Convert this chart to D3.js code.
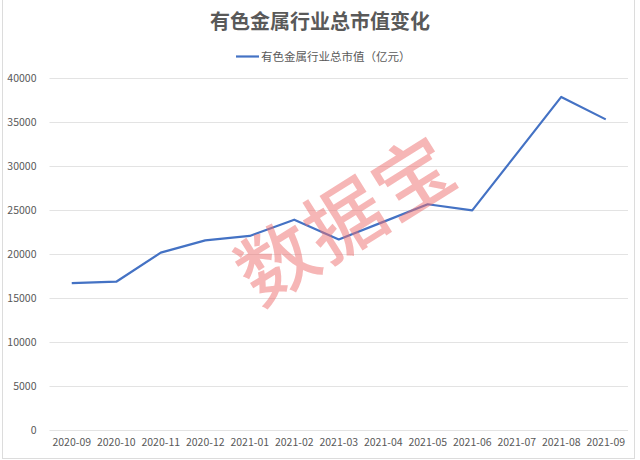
<!DOCTYPE html>
<html>
<head>
<meta charset="utf-8">
<script src="https://cdn.jsdelivr.net/npm/d3@7"></script>
<style>
  html, body { margin: 0; padding: 0; background: #fff; }
  svg { display: block; }
</style>
</head>
<body>
<svg id="chart" width="640" height="460"></svg>
<script>
const title = "有色金属行业总市值变化";
const seriesName = "有色金属行业总市值（亿元）";
const months = ["2020-09","2020-10","2020-11","2020-12","2021-01","2021-02","2021-03","2021-04","2021-05","2021-06","2021-07","2021-08","2021-09"];
const marketCap = [16700, 16850, 20150, 21550, 22050, 23900, 21650, 23650, 25650, 24950, 31400, 37850, 35300];
const yTicks = [0, 5000, 10000, 15000, 20000, 25000, 30000, 35000, 40000];
const watermark = "数据宝";

const W = 640, H = 460;
const margin = { left: 49.5, right: 12, top: 78, bottom: 30 };
const svg = d3.select("#chart");
const font = "'Microsoft YaHei','Noto Sans CJK SC','Noto Sans',sans-serif";

svg.append("rect").attr("x", 0).attr("y", 0).attr("width", W).attr("height", H).attr("fill", "#fff");
// outer frame
svg.append("rect").attr("x", 2.5).attr("y", -2).attr("width", 632).attr("height", 460.5)
  .attr("fill", "none").attr("stroke", "#dcdcdc").attr("stroke-width", 1);

const x = d3.scaleBand().domain(months).range([margin.left, W - margin.right]).padding(0);
const y = d3.scaleLinear().domain([0, 40000]).range([H - margin.bottom, margin.top]);

// gridlines
const yAxis = d3.axisLeft(y).tickValues(yTicks).tickSize(-(W - margin.right - margin.left)).tickPadding(13).tickFormat(d3.format("d"));
const gy = svg.append("g").attr("transform", `translate(${margin.left},0)`).call(yAxis);
gy.select(".domain").remove();
gy.selectAll(".tick line").attr("stroke", "#e3e3e3").attr("stroke-width", 1);
gy.selectAll(".tick text").attr("fill", "#595959").style("font-family", font).style("font-size", "10.5px");

// x axis labels
const xAxis = d3.axisBottom(x).tickSize(0).tickPadding(9);
const gx = svg.append("g").attr("transform", `translate(0,${H - margin.bottom})`).call(xAxis);
gx.select(".domain").remove();
gx.selectAll(".tick text").attr("fill", "#595959").style("font-family", font).style("font-size", "10.5px");

// line
const line = d3.line().x((d, i) => x(months[i]) + x.bandwidth() / 2).y(d => y(d));
svg.append("path").datum(marketCap).attr("d", line)
  .attr("fill", "none").attr("stroke", "#4472c4").attr("stroke-width", 2.2)
  .attr("stroke-linejoin", "round");

// title
svg.append("text").attr("x", 320).attr("y", 29).attr("text-anchor", "middle")
  .attr("fill", "#595959").style("font-family", font).style("font-size", "20px").style("font-weight", "bold")
  .text(title);

// legend
svg.append("line").attr("x1", 236).attr("x2", 259).attr("y1", 56.5).attr("y2", 56.5)
  .attr("stroke", "#4472c4").attr("stroke-width", 2.2);
svg.append("text").attr("x", 261).attr("y", 60.5).attr("fill", "#595959")
  .style("font-family", font).style("font-size", "11.5px").text(seriesName);

// watermark
svg.append("text").attr("transform", "translate(343,215) rotate(-32)")
  .attr("text-anchor", "middle").attr("dominant-baseline", "central")
  .attr("fill", "rgba(238,110,110,0.5)").style("font-family", font).style("font-size", "78px")
  .style("font-weight", "500").style("letter-spacing", "2px")
  .text(watermark);
</script>
</body>
</html>
